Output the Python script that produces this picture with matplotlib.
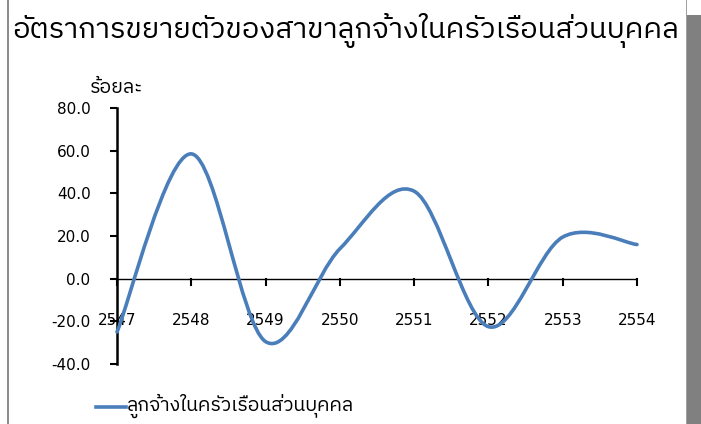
import matplotlib
matplotlib.use("Agg")
import matplotlib.pyplot as plt
from matplotlib import font_manager, ft2font
from matplotlib.path import Path
from matplotlib.patches import PathPatch, Rectangle
from matplotlib.lines import Line2D

# ---- data ----
years = [2547, 2548, 2549, 2550, 2551, 2552, 2553, 2554]
growth = [-25.0, 58.5, -29.5, 14.0, 41.0, -22.5, 19.5, 16.0]
yticks = [-40, -20, 0, 20, 40, 60, 80]
title = "อัตราการขยายตัวของสาขาลูกจ้างในครัวเรือนส่วนบุคคล"
ylabel = "ร้อยละ"
series_name = "ลูกจ้างในครัวเรือนส่วนบุคคล"

# ---- find a font with Thai glyphs ----
def find_thai_font():
    best = None
    for f in font_manager.fontManager.ttflist:
        try:
            cm = ft2font.FT2Font(f.fname).get_charmap()
        except Exception:
            continue
        if 0x0E2D in cm and 0x0E31 in cm:
            score = 0
            n = f.name.lower()
            if "thai" in n:
                score += 2
            if "loop" in n:
                score -= 1
            if f.weight in (400, "normal", "regular"):
                score += 1
            if best is None or score > best[0]:
                best = (score, f.name)
    return best[1] if best else None

thai = find_thai_font()
fam = [thai, "DejaVu Sans"] if thai else ["DejaVu Sans"]
plt.rcParams["font.family"] = fam

W, H = 701, 424
fig = plt.figure(figsize=(W / 100, H / 100), dpi=100)
fig.patch.set_facecolor("white")

# frame decorations
fig.add_artist(Rectangle((7 / W, 0), 2 / W, 1, transform=fig.transFigure,
                         facecolor="#8c8c8c", edgecolor="none"))
fig.add_artist(Rectangle((685.5 / W, 0), 1.2 / W, 1, transform=fig.transFigure,
                         facecolor="#a0a0a0", edgecolor="none"))
fig.add_artist(Rectangle((687 / W, 0), 14 / W, 1 - 15 / H, transform=fig.transFigure,
                         facecolor="#808080", edgecolor="none"))

x0, x1 = 117, 637
ytop, ybot = 108, 364
ax = fig.add_axes([x0 / W, 1 - ybot / H, (x1 - x0) / W, (ybot - ytop) / H])
ax.set_xlim(2547, 2554)
ax.set_ylim(-40, 80)
ax.set_facecolor("none")

for s in ["top", "right", "bottom"]:
    ax.spines[s].set_visible(False)
ax.spines["left"].set_linewidth(1.8)
ax.spines["left"].set_color("black")

ax.set_yticks(yticks)
ax.set_yticklabels([f"{v:.1f}" for v in yticks], fontsize=11, family=["DejaVu Sans"])
ax.tick_params(axis="y", direction="out", length=5, width=1.5, pad=14)

# x axis at zero with ticks below
ax.axhline(0, color="black", lw=1.0, zorder=1)
ax.set_xticks([])
for yr in years:
    ax.plot([yr, yr], [0, -2.8], color="black", lw=1.5, clip_on=False, zorder=1)
    ax.text(yr, -19.8, str(yr), ha="center", va="center", fontsize=11,
            family=["DejaVu Sans"], zorder=1)

# Excel-like smoothed line (cubic Bezier, Catmull-Rom control points)
n = len(years)
verts = [(years[0], growth[0])]
codes = [Path.MOVETO]
for i in range(n - 1):
    p0 = (years[max(i - 1, 0)], growth[max(i - 1, 0)])
    p1 = (years[i], growth[i])
    p2 = (years[i + 1], growth[i + 1])
    p3 = (years[min(i + 2, n - 1)], growth[min(i + 2, n - 1)])
    c1 = (p1[0] + (p2[0] - p0[0]) / 6, p1[1] + (p2[1] - p0[1]) / 6)
    c2 = (p2[0] - (p3[0] - p1[0]) / 6, p2[1] - (p3[1] - p1[1]) / 6)
    verts += [c1, c2, p2]
    codes += [Path.CURVE4] * 3
ax.add_patch(PathPatch(Path(verts, codes), facecolor="none", edgecolor="#4a7ebb",
                       lw=2.6, capstyle="round", joinstyle="round", zorder=3,
                       clip_on=False))

# texts
fig.text(12 / W, 1 - 31 / H, title, fontsize=21, va="center", ha="left")
fig.text(117 / W, 1 - 88 / H, ylabel, fontsize=14, va="center", ha="center")

# legend
fig.add_artist(Line2D([96 / W, 126 / W], [1 - 407 / H, 1 - 407 / H],
                      transform=fig.transFigure, color="#4a7ebb", lw=2.6))
fig.text(127 / W, 1 - 406 / H, series_name, fontsize=14, va="center", ha="left")

fig.savefig("out.png", dpi=100)
